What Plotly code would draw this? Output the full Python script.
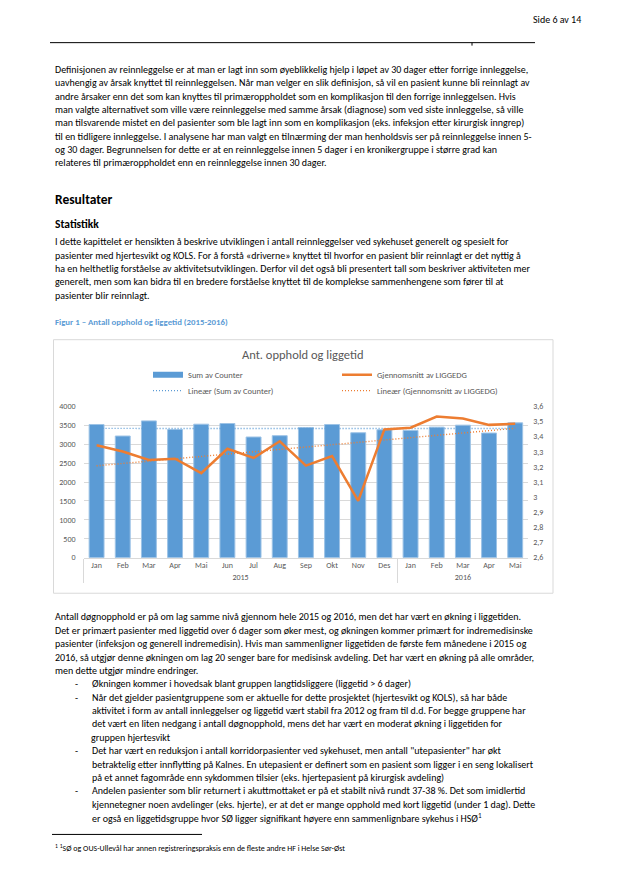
import numpy as np
import plotly.graph_objects as go

W, H = 631, 885
# the page body has an 8px default margin; lay everything out in page pixels
OX, OY = 8, 8
FW, FH = W - 16, H - 16

# ---------------- data ----------------
months = ["Jan", "Feb", "Mar", "Apr", "Mai", "Jun", "Jul", "Aug", "Sep", "Okt", "Nov", "Des",
          "Jan", "Feb", "Mar", "Apr", "Mai"]
years = ["2015"] * 12 + ["2016"] * 5
sum_counter = [3522, 3217, 3617, 3391, 3530, 3548, 3191, 3226, 3443, 3522, 3304, 3383,
               3365, 3452, 3504, 3296, 3565]
snitt_liggedg = [3.343, 3.302, 3.246, 3.254, 3.159, 3.320, 3.259, 3.370, 3.209, 3.272, 2.976, 3.448,
                 3.459, 3.533, 3.520, 3.478, 3.485]
left_ticks = [0, 500, 1000, 1500, 2000, 2500, 3000, 3500, 4000]
right_ticks = [2.6, 2.7, 2.8, 2.9, 3.0, 3.1, 3.2, 3.3, 3.4, 3.5, 3.6]

chart_title = "Ant. opphold og liggetid"
name_bar = "Sum av Counter"
name_line = "Gjennomsnitt av LIGGEDG"
name_tr_bar = "Lineær (Sum av Counter)"
name_tr_line = "Lineær (Gjennomsnitt av LIGGEDG)"

# linear trend lines (as Excel computes them)
idx = np.arange(len(sum_counter))
pb = np.polyfit(idx, sum_counter, 1)
pl = np.polyfit(idx, snitt_liggedg, 1)
trend_bar = list(np.polyval(pb, idx))
trend_line = list(np.polyval(pl, idx))

# ---------------- document text ----------------
para1 = [
    "Definisjonen av reinnleggelse er at man er lagt inn som øyeblikkelig hjelp i løpet av 30 dager etter forrige innleggelse,",
    "uavhengig av årsak knyttet til reinnleggelsen. Når man velger en slik definisjon, så vil en pasient kunne bli reinnlagt av",
    "andre årsaker enn det som kan knyttes til primæroppholdet som en komplikasjon til den forrige innleggelsen. Hvis",
    "man valgte alternativet som ville være reinnleggelse med samme årsak (diagnose) som ved siste innleggelse, så ville",
    "man tilsvarende mistet en del pasienter som ble lagt inn som en komplikasjon (eks. infeksjon etter kirurgisk inngrep)",
    "til en tidligere innleggelse. I analysene har man valgt en tilnærming der man henholdsvis ser på reinnleggelse innen 5-",
    "og 30 dager. Begrunnelsen for dette er at en reinnleggelse innen 5 dager i en kronikergruppe i større grad kan",
    "relateres til primæroppholdet enn en reinnleggelse innen 30 dager.",
]
para2 = [
    "I dette kapittelet er hensikten å beskrive utviklingen i antall reinnleggelser ved sykehuset generelt og spesielt for",
    "pasienter med hjertesvikt og KOLS. For å forstå «driverne» knyttet til hvorfor en pasient blir reinnlagt er det nyttig å",
    "ha en helthetlig forståelse av aktivitetsutviklingen. Derfor vil det også bli presentert tall som beskriver aktiviteten mer",
    "generelt, men som kan bidra til en bredere forståelse knyttet til de komplekse sammenhengene som fører til at",
    "pasienter blir reinnlagt.",
]
para3 = [
    "Antall døgnopphold er på om lag samme nivå gjennom hele 2015 og 2016, men det har vært en økning i liggetiden.",
    "Det er primært pasienter med liggetid over 6 dager som øker mest, og økningen kommer primært for indremedisinske",
    "pasienter (infeksjon og generell indremedisin). Hvis man sammenligner liggetiden de første fem månedene i 2015 og",
    "2016, så utgjør denne økningen om lag 20 senger bare for medisinsk avdeling. Det har vært en økning på alle områder,",
    "men dette utgjør mindre endringer.",
]
bullets = [
    ["Økningen kommer i hovedsak blant gruppen langtidsliggere (liggetid &gt; 6 dager)"],
    ["Når det gjelder pasientgruppene som er aktuelle for dette prosjektet (hjertesvikt og KOLS), så har både",
     "aktivitet i form av antall innleggelser og liggetid vært stabil fra 2012 og fram til d.d. For begge gruppene har",
     "det vært en liten nedgang i antall døgnopphold, mens det har vært en moderat økning i liggetiden for",
     "gruppen hjertesvikt"],
    ["Det har vært en reduksjon i antall korridorpasienter ved sykehuset, men antall \"utepasienter\" har økt",
     "betraktelig etter innflytting på Kalnes. En utepasient er definert som en pasient som ligger i en seng lokalisert",
     "på et annet fagområde enn sykdommen tilsier (eks. hjertepasient på kirurgisk avdeling)"],
    ["Andelen pasienter som blir returnert i akuttmottaket er på et stabilt nivå rundt 37-38 %. Det som imidlertid",
     "kjennetegner noen avdelinger (eks. hjerte), er at det er mange opphold med kort liggetid (under 1 dag). Dette",
     "er også en liggetidsgruppe hvor SØ ligger signifikant høyere enn sammenlignbare sykehus i HSØ<sup>1</sup>"],
]
footnote = "<sup>1</sup> <sup>1</sup>SØ og OUS-Ullevål har annen registreringspraksis enn de fleste andre HF i Helse Sør-Øst"

BODY = "Carlito, Calibri, Lato, sans-serif"
GREY = "#595959"
GRID = "#D9D9D9"
BLUE = "#5B9BD5"
ORANGE = "#ED7D31"


def px_x(x):
    return (x - OX) / FW


def px_y(y):
    return 1 - (y - OY) / FH


annotations = []


def txt(x, y, s, size=10, color="black", bold=False, family=BODY, anchor="left"):
    if bold:
        s = "<b>" + s + "</b>"
    annotations.append(dict(x=px_x(x), y=px_y(y), xref="paper", yref="paper", text=s,
                            showarrow=False, xanchor=anchor, yanchor="middle", align="left",
                            font=dict(family=family, size=size, color=color)))


LS = 13.53
LEFT = 53
txt(531, 15, "Side 6 av 14", size=10)
for i, s in enumerate(para1):
    txt(LEFT, 65 + i * LS, s)
txt(LEFT, 197, "Resultater", size=13.5, bold=True)
txt(LEFT, 221.5, "Statistikk", size=11.5, bold=True)
for i, s in enumerate(para2):
    txt(LEFT, 239.3 + i * LS, s)
txt(LEFT, 321, "Figur 1 – Antall opphold og liggetid (2015-2016)", size=8.8, color=BLUE, bold=True)
y = 619
for s in para3:
    txt(LEFT, y, s)
    y += LS
for b in bullets:
    txt(72.5, y, "-")
    for s in b:
        txt(89.5, y, s)
        y += LS
txt(LEFT, 853, footnote, size=8)
txt(303, 353, chart_title, size=12.5, color=GREY, anchor="center")

shapes = [
    dict(type="line", xref="paper", yref="paper", x0=px_x(50), x1=px_x(535), y0=px_y(38), y1=px_y(38),
         line=dict(color="black", width=1)),
    dict(type="line", xref="paper", yref="paper", x0=px_x(472), x1=px_x(472), y0=px_y(38), y1=px_y(41),
         line=dict(color="black", width=1)),
    dict(type="line", xref="paper", yref="paper", x0=px_x(52), x1=px_x(202), y0=px_y(839), y1=px_y(839),
         line=dict(color="black", width=1)),
    dict(type="rect", xref="paper", yref="paper", x0=px_x(53.5), x1=px_x(553), y0=px_y(595), y1=px_y(338.5),
         line=dict(color=GRID, width=1)),
]

xcat = [years, months]
DOT = "1px,2px"

fig = go.Figure()
fig.add_trace(go.Bar(x=xcat, y=sum_counter, name=name_bar, showlegend=False,
                     marker=dict(color=BLUE, line=dict(color="#9DC3E6", width=1))))
# legend entry for the bars drawn as a wide swatch, like Excel's
fig.add_trace(go.Scatter(x=[None], y=[None], name=name_bar, mode="lines",
                         line=dict(color=BLUE, width=6), legend="legend"))
fig.add_trace(go.Scatter(x=xcat, y=snitt_liggedg, name=name_line, mode="lines", yaxis="y2",
                         line=dict(color=ORANGE, width=2.5), legend="legend"))
fig.add_trace(go.Scatter(x=xcat, y=trend_bar, name=name_tr_bar, mode="lines",
                         line=dict(color=BLUE, width=1.4, dash=DOT), legend="legend2"))
fig.add_trace(go.Scatter(x=xcat, y=trend_line, name=name_tr_line, mode="lines", yaxis="y2",
                         line=dict(color=ORANGE, width=1.4, dash=DOT), legend="legend2"))

legend_common = dict(orientation="h", entrywidth=144, entrywidthmode="pixels", xanchor="left",
                     yanchor="middle", font=dict(family=BODY, size=8.5, color=GREY),
                     bgcolor="rgba(0,0,0,0)", itemwidth=30, traceorder="normal")

fig.update_layout(
    width=FW, height=FH, autosize=False,
    margin=dict(l=0, r=0, t=0, b=0),
    paper_bgcolor="white", plot_bgcolor="white",
    separators=", ",
    bargap=0.43,
    showlegend=True,
    legend=dict(x=px_x(148), y=px_y(374), **legend_common),
    legend2=dict(x=px_x(148), y=px_y(390), **legend_common),
    xaxis=dict(type="multicategory", domain=[px_x(83.5), px_x(528.3)], showline=True, linecolor=GRID,
               showgrid=False, tickfont=dict(family=BODY, size=8, color=GREY), showdividers=True,
               dividercolor=GRID, dividerwidth=1, ticks="outside", ticklen=6, tickcolor="rgba(0,0,0,0)"),
    yaxis=dict(domain=[px_y(559), px_y(406)], range=[0, 4000], tickvals=left_ticks, showgrid=True, gridcolor=GRID,
               zeroline=False, showline=False, tickfont=dict(family=BODY, size=8, color=GREY),
               ticklabelstandoff=7),
    yaxis2=dict(overlaying="y", side="right", range=[2.6, 3.6], tickvals=right_ticks, showgrid=False,
                zeroline=False, showline=False, tickfont=dict(family=BODY, size=8, color=GREY),
                ticklabelstandoff=4),
    annotations=annotations,
    shapes=shapes,
)

fig.write_html("out.html")
